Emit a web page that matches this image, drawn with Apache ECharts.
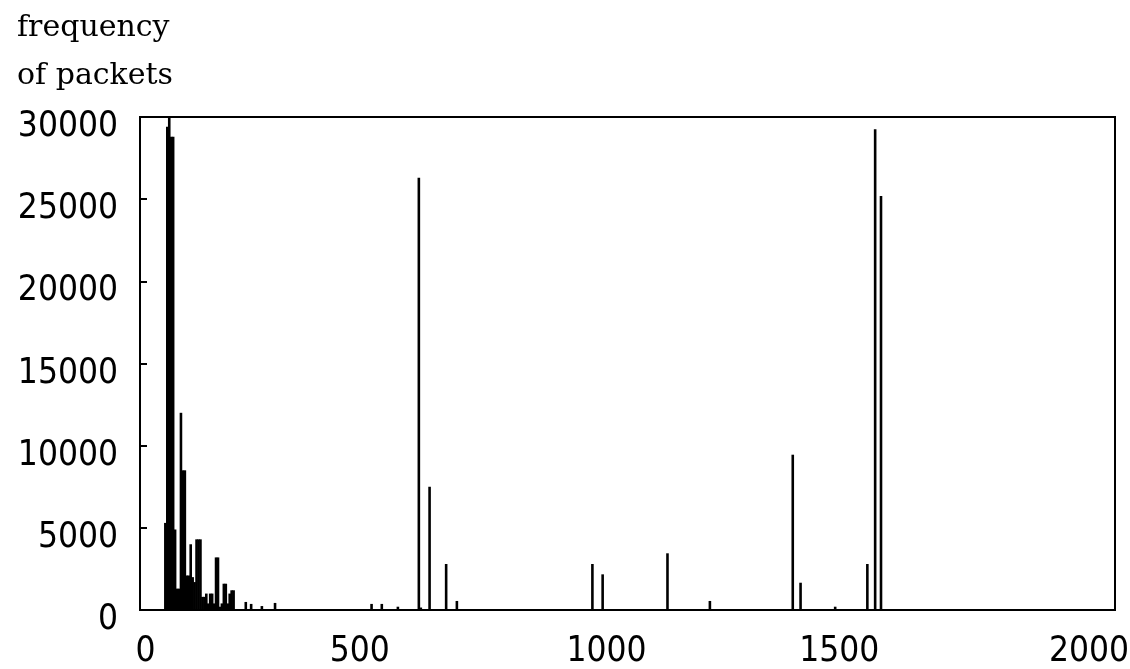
<!DOCTYPE html>
<html>
<head>
<meta charset="utf-8">
<title>frequency of packets</title>
<script src="https://cdn.jsdelivr.net/npm/echarts@6/dist/echarts.min.js"></script>
<style>
  html, body { margin: 0; padding: 0; background: #fff; }
  #chart { width: 1130px; height: 669px; }
</style>
</head>
<body>
<div id="chart"></div>
<script>
// packet size (bytes) and how many packets had that size
const packetSizes = [
  52, 56, 60, 64, 68, 72, 76, 80, 84, 88, 92, 96, 100, 104, 108, 112, 116, 120,
  124, 128, 132, 136, 140, 144, 148, 152, 156, 160, 164, 168, 172, 176, 180, 184,
  188, 192, 217, 228, 250, 277,
  475, 496, 529, 572, 576, 594, 628, 650,
  928, 949, 1082, 1169, 1339, 1355, 1426, 1492, 1508, 1520
];
const packetCounts = [
  5300, 29400, 30000, 28800, 28800, 4900, 1300, 1300, 12000, 8500, 8500, 2100, 2100, 4000, 2000, 1700, 4300, 4300,
  4300, 800, 800, 1000, 400, 1000, 1000, 400, 3200, 3200, 200, 400, 1600, 1600, 400, 1000,
  1200, 1200, 490, 370, 240, 430,
  370, 370, 200, 26300, 150, 7500, 2800, 550,
  2800, 2170, 3450, 550, 9450, 1660, 200, 2800, 29250, 25200
];
const xTicks = [0, 500, 1000, 1500, 2000];
const yTicks = [0, 5000, 10000, 15000, 20000, 25000, 30000];

const labelFont = "'Liberation Sans Narrow', 'DejaVu Sans Condensed', sans-serif";
const labelSize = 35;

// the original labels do not sit exactly under their ticks
const xLabelPad = {
  0: [0, 0, 0, 11],
  500: [0, 48, 0, 0],
  1000: [0, 42, 0, 0],
  1500: [0, 64, 0, 0],
  2000: [0, 52, 0, 0]
};
const xRich = {};
xTicks.forEach((t, i) => {
  xRich['t' + i] = { fontFamily: labelFont, fontSize: labelSize, color: '#000', padding: xLabelPad[t] };
});

const chart = echarts.init(document.getElementById('chart'));

const option = {
  backgroundColor: '#fff',
  animation: false,
  title: {
    text: 'frequency\nof packets',
    left: 17,
    top: 4,
    padding: 0,
    textStyle: {
      fontFamily: "'DejaVu Serif', serif",
      fontSize: 30,
      fontWeight: 'normal',
      lineHeight: 48,
      color: '#000'
    }
  },
  grid: {
    left: 140,
    right: 15,
    top: 117,
    bottom: 59,
    show: true,
    borderColor: '#000',
    borderWidth: 2,
    outerBoundsMode: 'none'
  },
  xAxis: {
    type: 'value',
    min: 0,
    max: 2000,
    interval: 500,
    axisLine: { lineStyle: { color: '#000', width: 2 } },
    axisTick: { show: false },
    splitLine: { show: false },
    axisLabel: {
      margin: 24,
      fontFamily: labelFont,
      fontSize: labelSize,
      color: '#000',
      formatter: v => '{t' + xTicks.indexOf(v) + '|' + v + '}',
      rich: xRich
    }
  },
  yAxis: {
    type: 'value',
    min: 0,
    max: 30000,
    interval: 5000,
    axisLine: { show: true, lineStyle: { color: '#000', width: 2 } },
    axisTick: { show: true, inside: true, length: 7, lineStyle: { color: '#000', width: 2 } },
    splitLine: { show: false },
    axisLabel: {
      margin: 22,
      color: '#000',
      // labels hang a little below their ticks in the original
      formatter: v => '{y|' + yTicks[yTicks.indexOf(v)] + '}',
      rich: {
        y: { fontFamily: labelFont, fontSize: labelSize, color: '#000', padding: [20, 0, 0, 0] }
      }
    }
  },
  series: [{
    type: 'bar',
    barWidth: 2.6,
    itemStyle: { color: '#000' },
    data: packetSizes.map((s, i) => [s, packetCounts[i]])
  }]
};

chart.setOption(option);
</script>
</body>
</html>
